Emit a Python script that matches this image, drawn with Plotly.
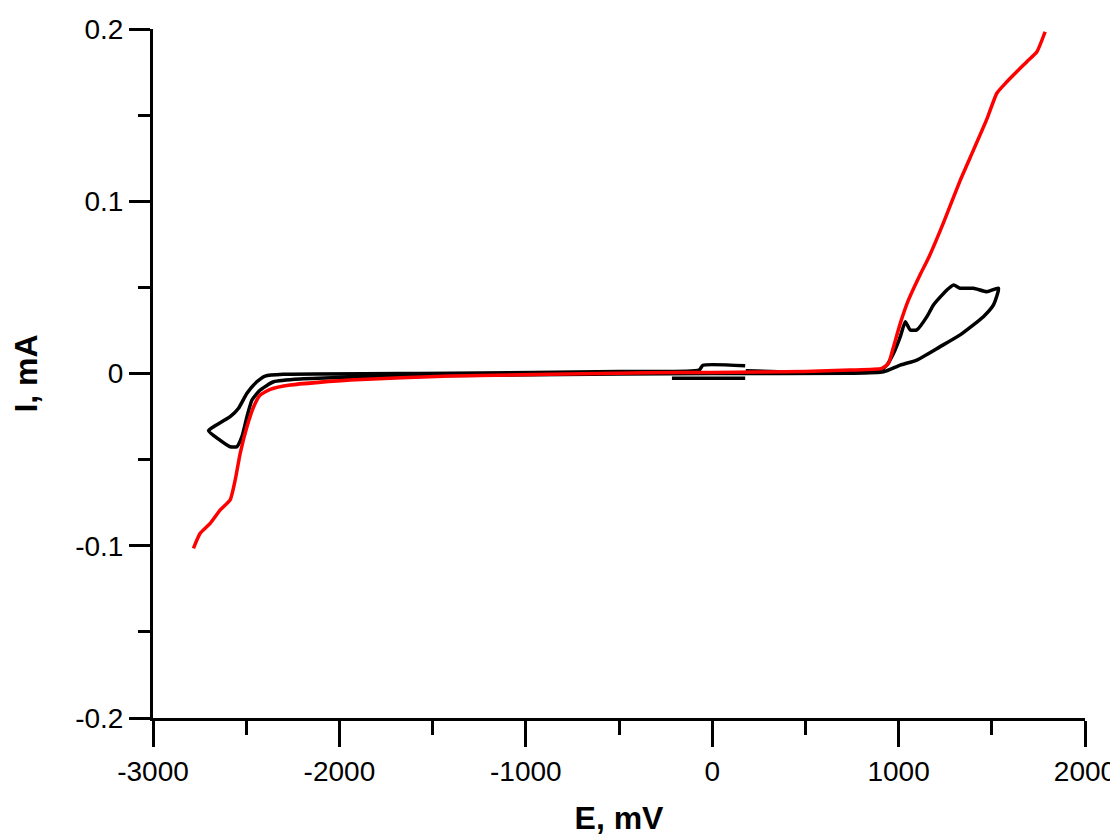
import plotly.graph_objects as go

# Red curve (E in mV, I in mA)
red_E = [-2783, -2747, -2693, -2639, -2586, -2559, -2532, -2496, -2460, -2425, -2371,
         -2264, -1942, -1406, -333, 0, 500, 740, 910, 946, 973, 1009, 1053, 1116,
         1161, 1241, 1330, 1402, 1474, 1527, 1581, 1688, 1742, 1786]
red_I = [-0.1015, -0.0928, -0.0870, -0.0792, -0.0734, -0.0618, -0.0462, -0.0309, -0.0193,
         -0.0125, -0.0092, -0.0067, -0.0038, -0.0015, 0.0005, 0.0006, 0.0012, 0.0020,
         0.0030, 0.0059, 0.0156, 0.0291, 0.0427, 0.0575, 0.0672, 0.0876, 0.1120,
         0.1298, 0.1478, 0.1627, 0.1694, 0.1810, 0.1868, 0.1984]

# Black curve (CV loop)
black_E = [-216, 0, 177, None,
           177, -50, -70, -500, -1400, -2300, -2398, -2443, -2496, -2541, -2586, -2675,
           -2702, -2650, -2586, -2550, -2523, -2496, -2469, -2425, -2353, -2210, -1400,
           -500, 0, 740, 919, 1009, 1098, 1223, 1330, 1455, 1509, 1536, 1474, 1402,
           1330, 1295, 1259, 1187, 1152, 1098, 1062, 1036, 1009, 973, 937, 901, 740,
           400, 180]
black_I = [-0.0028, -0.0028, -0.0028, None,
           0.0045, 0.0048, 0.0020, 0.0012, 0.0001, -0.0005, -0.0015, -0.0048, -0.0115,
           -0.0202, -0.0251, -0.0309, -0.0332, -0.0380, -0.0425, -0.0425, -0.0367,
           -0.0251, -0.0154, -0.0096, -0.0048, -0.0032, -0.0012, -0.0003, 0.0000,
           0.0001, 0.0010, 0.0049, 0.0078, 0.0156, 0.0224, 0.0330, 0.0398, 0.0495,
           0.0475, 0.0495, 0.0495, 0.0514, 0.0485, 0.0398, 0.0330, 0.0253, 0.0253,
           0.0301, 0.0214, 0.0117, 0.0049, 0.0020, 0.0010, 0.0010, 0.0016]

x_ticks = [-3000, -2000, -1000, 0, 1000, 2000]
y_ticks = [-0.2, -0.1, 0, 0.1, 0.2]
y_labels = ["-0.2", "-0.1", "0", "0.1", "0.2"]

FONT = "Liberation Sans, Arial, sans-serif"

fig = go.Figure()
fig.add_trace(go.Scatter(x=black_E, y=black_I, mode="lines",
                         line=dict(color="black", width=3.5, shape="spline", smoothing=0.5),
                         connectgaps=False, showlegend=False))
fig.add_trace(go.Scatter(x=red_E, y=red_I, mode="lines",
                         line=dict(color="#ff0000", width=3.5, shape="spline", smoothing=0.5),
                         showlegend=False))

fig.update_layout(
    width=1110, height=832,
    margin=dict(l=145, r=33, t=21, b=122),
    paper_bgcolor="white", plot_bgcolor="white",
    font=dict(family=FONT, color="black", size=28),
    xaxis=dict(
        range=[-3000, 2000], tickvals=x_ticks, ticktext=[str(v) for v in x_ticks],
        showgrid=False, zeroline=False, showline=True, linecolor="black", linewidth=3,
        ticks="outside", ticklen=26, tickwidth=3, tickcolor="black", automargin=False,
        minor=dict(dtick=500, ticks="outside", ticklen=14, tickwidth=3, tickcolor="black"),
        tickfont=dict(size=28),
        title=dict(text="<b>E, mV</b>", font=dict(size=32), standoff=22),
    ),
    yaxis=dict(
        range=[-0.2, 0.2], tickvals=y_ticks, ticktext=y_labels,
        showgrid=False, zeroline=False, showline=True, linecolor="black", linewidth=3,
        ticks="outside", ticklen=21, tickwidth=3, tickcolor="black", automargin=False,
        minor=dict(dtick=0.05, ticks="outside", ticklen=12, tickwidth=3, tickcolor="black"),
        tickfont=dict(size=28),
        title=dict(text="<b>I, mA</b>", font=dict(size=32), standoff=40),
    ),
)

fig.write_html("out.html")
